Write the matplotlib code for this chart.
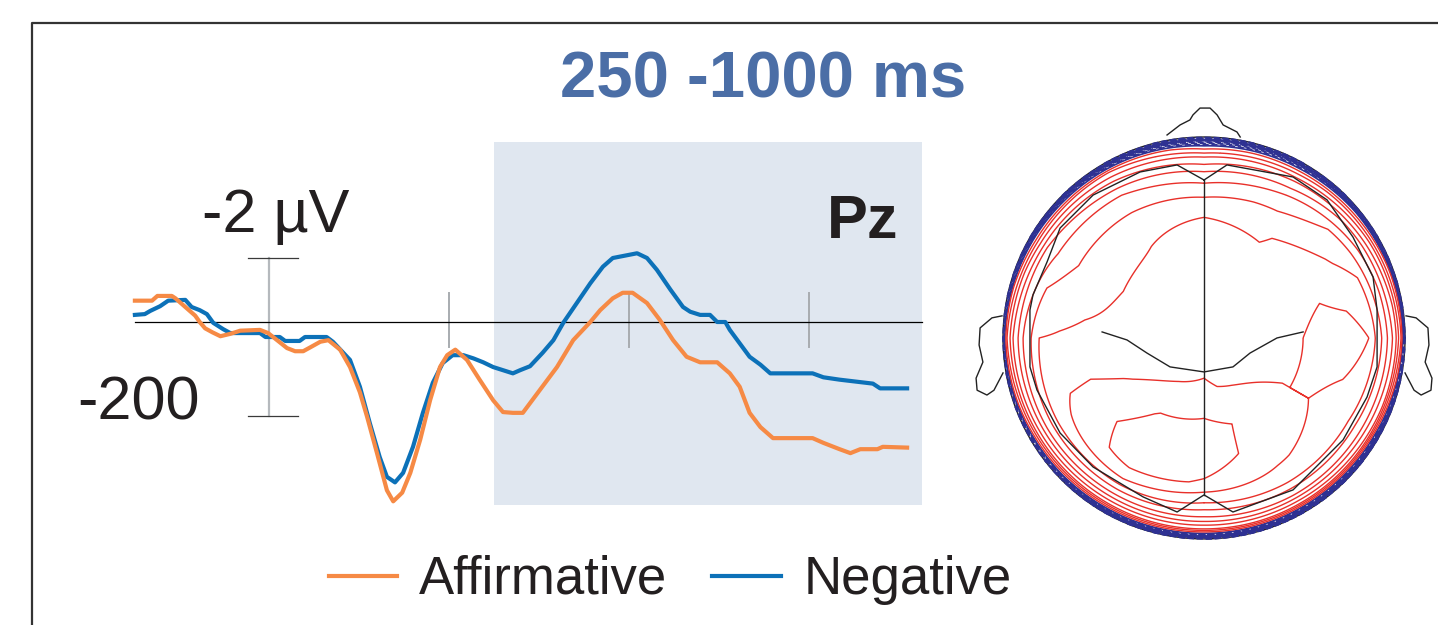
import matplotlib
matplotlib.use("Agg")
import matplotlib.pyplot as plt
from matplotlib.patches import Rectangle
import numpy as np

plt.rcParams['font.family'] = ['Liberation Sans', 'DejaVu Sans']

# ERP at Pz, time in ms, amplitude in uV (negative plotted up)
time_aff = [-149, -130, -124, -108, -104, -93, -82, -77, -71, -63, -54, -43, -32, -10, -1,
            9, 20, 29, 38, 46, 57, 66, 79, 90, 101, 109, 120, 131, 138, 148, 157, 168, 179,
            190, 198, 207, 220, 234, 249, 260, 271, 282, 301, 320, 338, 357, 368, 382, 393,
            404, 420, 434, 449, 464, 479, 498, 512, 523, 534, 546, 560, 604, 616, 634, 646,
            657, 676, 682, 709]
amp_aff = [-0.27, -0.27, -0.33, -0.33, -0.30, -0.19, -0.08, 0.0, 0.08, 0.13, 0.18, 0.15, 0.11,
           0.10, 0.14, 0.23, 0.33, 0.37, 0.37, 0.32, 0.25, 0.23, 0.35, 0.57, 0.89, 1.20, 1.66,
           2.13, 2.27, 2.16, 1.91, 1.49, 0.99, 0.57, 0.42, 0.35, 0.48, 0.73, 0.99, 1.14, 1.15,
           1.15, 0.86, 0.57, 0.23, 0.0, -0.15, -0.30, -0.37, -0.37, -0.24, -0.03, 0.23, 0.44,
           0.51, 0.51, 0.65, 0.82, 1.15, 1.33, 1.47, 1.47, 1.53, 1.61, 1.66, 1.61, 1.61, 1.58,
           1.59]

time_neg = [-149, -138, -132, -121, -112, -93, -86, -77, -69, -62, -51, -43, -10, -4, 12, 18,
            34, 40, 64, 71, 90, 101, 112, 123, 131, 140, 149, 160, 171, 182, 193, 204, 216,
            227, 238, 249, 260, 271, 279, 290, 304, 316, 327, 342, 357, 371, 382, 409, 420,
            431, 446, 460, 468, 479, 490, 498, 507, 512, 523, 534, 546, 557, 604, 616, 634,
            671, 679, 709]
amp_neg = [-0.09, -0.10, -0.14, -0.20, -0.27, -0.28, -0.19, -0.15, -0.10, 0.01, 0.09, 0.14,
           0.14, 0.19, 0.19, 0.24, 0.24, 0.19, 0.19, 0.25, 0.48, 0.82, 1.28, 1.71, 1.96, 2.03,
           1.91, 1.58, 1.15, 0.77, 0.52, 0.42, 0.42, 0.46, 0.51, 0.57, 0.61, 0.65, 0.61, 0.56,
           0.39, 0.23, 0.01, -0.24, -0.49, -0.70, -0.81, -0.87, -0.81, -0.66, -0.41, -0.19,
           -0.13, -0.09, -0.09, 0.0, 0.0, 0.10, 0.27, 0.44, 0.54, 0.65, 0.65, 0.70, 0.73, 0.78,
           0.84, 0.84]

window_ms = [250, 725]
tick_ms = [200, 400, 600]

# scalp map: values on rings (radius) x angles (deg, 0 = right, 90 = nose)
topo_radii = [0.0, 0.25, 0.45, 0.6, 0.72, 0.82, 0.9, 0.95, 0.98, 1.0]
topo_angles = [0, 30, 60, 90, 120, 150, 180, 210, 240, 270, 300, 330]
topo_values = [
    [8.6, 8.6, 8.6, 8.6, 8.6, 8.6, 8.6, 8.6, 8.6, 8.6, 8.6, 8.6],
    [8.7, 8.6, 8.5, 8.5, 8.4, 8.3, 8.4, 8.6, 9.0, 9.1, 8.9, 8.7],
    [8.8, 8.5, 8.2, 8.3, 8.1, 8.05, 8.2, 9.1, 10.1, 10.3, 9.8, 9.0],
    [9.5, 8.6, 7.9, 8.0, 7.9, 7.5, 8.2, 9.4, 10.7, 10.5, 9.6, 9.0],
    [9.5, 8.1, 7.1, 6.8, 7.0, 7.0, 8.1, 9.3, 10.4, 9.9, 9.1, 8.6],
    [9.0, 7.6, 6.0, 5.2, 6.0, 6.3, 8.0, 8.6, 8.8, 8.0, 8.3, 8.2],
    [6.5, 5.5, 4.0, 3.0, 4.0, 5.0, 6.0, 6.0, 5.8, 5.7, 6.0, 6.2],
    [4.5, 3.0, 1.5, 0.5, 2.0, 2.5, 4.0, 3.5, 3.2, 3.0, 3.2, 3.8],
    [2.0, 0.5, -1.0, -2.0, -1.0, 0.0, 2.0, 0.5, -0.5, -1.0, -1.0, -0.5],
    [-2.0, -4.0, -5.0, -6.0, -5.0, -4.0, -1.5, -3.0, -7.0, -9.0, -9.0, -7.0],
]

# head drawing (unit head radius)
nose_x = [-0.184, -0.119, -0.07, -0.055, -0.02, 0.03, 0.065, 0.095, 0.164, 0.18]
nose_y = [1.01, 1.06, 1.085, 1.11, 1.144, 1.144, 1.11, 1.06, 1.025, 1.0]
ear_x = [-1.005, -1.055, -1.114, -1.119, -1.10, -1.134, -1.129, -1.08, -1.045, -1.0]
ear_y = [0.11, 0.10, 0.05, -0.035, -0.12, -0.20, -0.26, -0.284, -0.26, -0.174]
brain_x = [0, 0.114, 0.443, 0.612, 0.741, 0.841, 0.861, 0.861, 0.811, 0.692, 0.443, 0.144,
           0, -0.134, -0.303, -0.552, -0.716, -0.831, -0.866, -0.866, -0.851, -0.781, -0.716,
           -0.552, -0.318, -0.134, 0]
brain_y = [0.786, 0.861, 0.801, 0.687, 0.502, 0.303, 0.139, -0.144, -0.294, -0.507, -0.756,
           -0.866, -0.781, -0.866, -0.791, -0.642, -0.473, -0.259, -0.144, 0.139, 0.214, 0.378,
           0.547, 0.711, 0.826, 0.861, 0.786]
sulcus_x = [-0.507, -0.383, -0.284, -0.169, 0, 0.144, 0.229, 0.363, 0.493]
sulcus_y = [0.030, -0.010, -0.075, -0.144, -0.169, -0.144, -0.075, 0.0, 0.030]

c_aff = '#F68A45'
c_neg = '#0C71B8'
c_txt = '#231F20'

W, H = 1438, 625
fig = plt.figure(figsize=(W / 100, H / 100), dpi=100)
ax = fig.add_axes([0, 0, 1, 1])
ax.set_xlim((0 - 269) / 0.9, (W - 269) / 0.9)
ax.set_ylim((H - 322) / 79, (0 - 322) / 79)
ax.axis('off')

# outer frame
ax.plot([32 / W, 32 / W, 1], [0, 1 - 23 / H, 1 - 23 / H], transform=ax.transAxes,
        color='#333333', lw=1.6, clip_on=False)

ax.add_patch(Rectangle((window_ms[0], -2.28), window_ms[1] - window_ms[0], 4.60,
                       facecolor='#E0E7F0', edgecolor='none', zorder=0))
ax.plot([-149, 725.6], [0, 0], color='black', lw=0.9, zorder=2)

# scale bar and ticks
ax.plot([0, 0], [-0.81, 1.19], color='#B5B9BD', lw=1.6, zorder=1)
for yv in [-0.81, 1.19]:
    ax.plot([-23, 32], [yv, yv], color='#3A3A3A', lw=0.9, zorder=1)
for t in tick_ms:
    ax.plot([t, t], [-0.37, 0.32], color='#A8ACB0', lw=1.4, zorder=1)

ax.plot(time_neg, amp_neg, color=c_neg, lw=3.0, zorder=3, label='Negative')
ax.plot(time_aff, amp_aff, color=c_aff, lw=3.0, zorder=4, label='Affirmative')

ax.text(763 / W, 1 - 80 / H, '250 -1000 ms', transform=ax.transAxes, ha='center',
        va='center', fontsize=47, fontweight='bold', color='#4B6EA6')
ax.text(276 / W, 1 - 232 / H, '-2 µV', transform=ax.transAxes, ha='center',
        va='baseline', fontsize=44, color=c_txt)
ax.text(139 / W, 1 - 419 / H, '-200', transform=ax.transAxes, ha='center',
        va='baseline', fontsize=44, color=c_txt)
ax.text(898 / W, 1 - 238 / H, 'Pz', transform=ax.transAxes, ha='right',
        va='baseline', fontsize=44, fontweight='bold', color=c_txt)

h, l = ax.get_legend_handles_labels()
ax.legend(h[::-1], l[::-1], loc='center', bbox_to_anchor=(670 / W, 1 - 580 / H),
          ncol=2, frameon=False, fontsize=38, handlelength=1.3, handletextpad=0.42,
          columnspacing=0.85, borderpad=0, labelcolor=c_txt)

# scalp map
hax = fig.add_axes([960 / W, 1 - 555 / H, 478 / W, 460 / H])
hax.set_xlim(-1.214, 1.164)
hax.set_ylim(-1.080, 1.209)
hax.axis('off')

th_f = np.arange(0, 361, 1.0)
r_f = np.linspace(0, 1, 301)
tv = np.array(topo_values)
rows = np.array([np.interp(th_f, topo_angles, row, period=360) for row in tv])
Z = np.array([np.interp(r_f, topo_radii, rows[:, j]) for j in range(len(th_f))]).T
TH, R = np.meshgrid(np.deg2rad(th_f), r_f)
X, Y = R * np.cos(TH), R * np.sin(TH)

circ = np.linspace(0, 2 * np.pi, 361)
hax.plot(np.cos(circ), np.sin(circ), color='#222222', lw=1.0)
hax.contour(X, Y, Z, levels=np.arange(-9.0, 0.01, 0.5), colors='#2E3192', linewidths=1.2)
hax.contour(X, Y, Z, levels=np.arange(1, 11), colors='#E8302A', linewidths=1.0)

hax.plot(nose_x, nose_y, color='#222222', lw=1.0)
hax.plot(ear_x, ear_y, color='#222222', lw=1.0)
hax.plot(-np.array(ear_x), ear_y, color='#222222', lw=1.0)
hax.plot(brain_x, brain_y, color='#222222', lw=1.0)
hax.plot([0, 0], [0.786, -0.781], color='#222222', lw=1.0)
hax.plot(sulcus_x, sulcus_y, color='#222222', lw=1.0)

fig.savefig('out.png', dpi=100)
